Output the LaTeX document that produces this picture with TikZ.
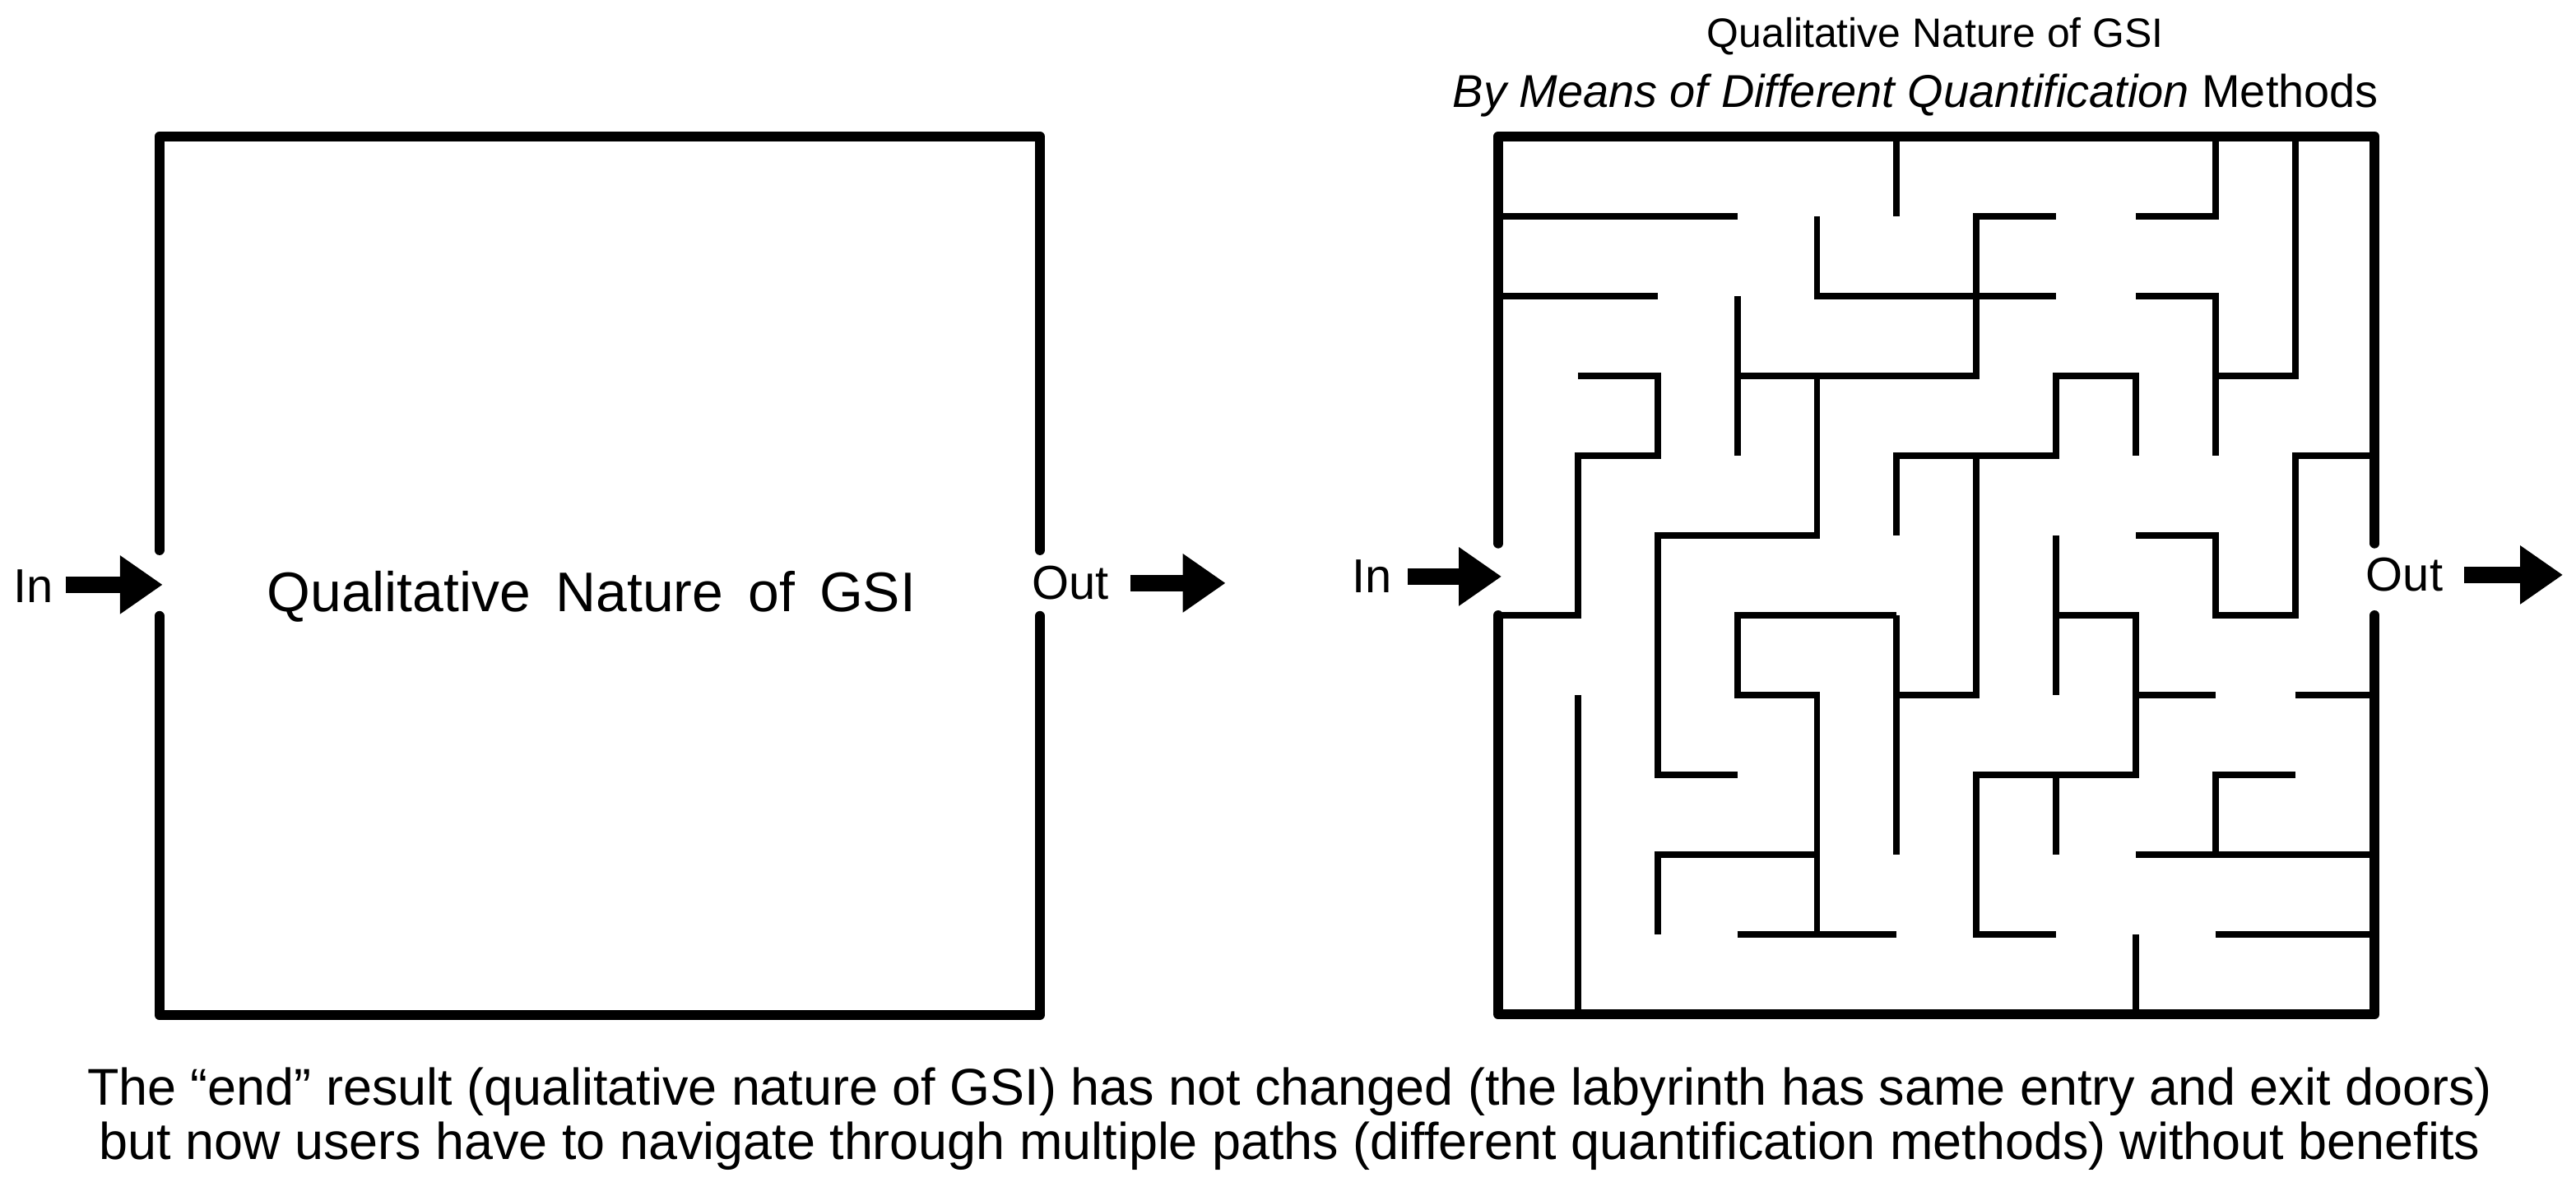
\documentclass[tikz,border=0pt]{standalone}
\usepackage{fontspec}
\setmainfont{Liberation Sans}
\usetikzlibrary{arrows.meta}
\begin{document}
\begin{tikzpicture}[x=1pt,y=-1pt,
    frame/.style={line width=6pt, line cap=round, line join=round},
    wall/.style={line width=4pt, line join=miter},
    flow/.style={line width=10pt, -{Triangle[length=26pt,width=34pt]}},
    lbl/.style={font=\fontsize{29}{34}\selectfont, inner sep=0pt}]
    \useasboundingbox (0,0) rectangle (1568,728);

    % Left box (open)
    \draw[frame] (97,335) -- (97,83) -- (633,83) -- (633,335);
    \draw[frame] (97,375) -- (97,618) -- (633,618) -- (633,375);
    \node[font=\fontsize{34}{40}\selectfont] (nat) at (360,363) {Qualitative\, Nature\, of\, GSI};

    \node[lbl, anchor=west] (inL) at (8,357) {In};
    \coordinate (inLa) at (40,356);
    \coordinate (inLb) at (99,356);
    \draw[flow] (inLa) -- (inLb);
    \node[lbl, anchor=west] (outL) at (628,355) {Out};
    \coordinate (outLa) at (688,355);
    \coordinate (outLb) at (746,355);
    \draw[flow] (outLa) -- (outLb);

    % Titles
    \node[lbl, font=\fontsize{25}{28}\selectfont] (t1) at (1178,22) {Qualitative Nature of GSI};
    \node[lbl, font=\fontsize{28}{32}\selectfont] (t2) at (1166,58) {\textit{By Means of Different Quantification} Methods};

    % Maze
    \begin{scope}[xshift=912pt, yshift=-83pt, x=48.5pt, y=-48.6pt]
        % outer walls
        \draw[frame] (0,5.1) -- (0,0) -- (11,0) -- (11,5.1);
        \draw[frame] (0,6) -- (0,11) -- (11,11) -- (11,6);
        % inner walls
        \draw[wall] (5,0) -- (5,1);
        \draw[wall] (9,0) -- (9,1) -- (8,1);
        \draw[wall] (10,0) -- (10,3) -- (9,3) -- (9,2) -- (8,2);
        \draw[wall] (0,1) -- (3,1);
        \draw[wall] (0,2) -- (2,2);
        \draw[wall] (4,1) -- (4,2) -- (6,2) -- (6,1) -- (7,1);
        \draw[wall] (6,2) -- (7,2);
        \draw[wall] (6,2) -- (6,3) -- (3,3);
        \draw[wall] (3,2) -- (3,4);
        \draw[wall] (4,3) -- (4,5) -- (2,5) -- (2,8) -- (3,8);
        \draw[wall] (1,3) -- (2,3) -- (2,4) -- (1,4) -- (1,6) -- (0,6);
        \draw[wall] (5,5) -- (5,4) -- (7,4) -- (7,3) -- (8,3) -- (8,4);
        \draw[wall] (6,4) -- (6,7) -- (5,7);
        \draw[wall] (9,3) -- (9,4);
        \draw[wall] (11,4) -- (10,4) -- (10,6) -- (9,6) -- (9,5) -- (8,5);
        \draw[wall] (7,5) -- (7,7);
        \draw[wall] (7,6) -- (8,6) -- (8,8) -- (6,8) -- (6,10) -- (7,10);
        \draw[wall] (8,7) -- (9,7);
        \draw[wall] (10,7) -- (11,7);
        \draw[wall] (7,8) -- (7,9);
        \draw[wall] (5,6) -- (3,6) -- (3,7) -- (4,7) -- (4,10);
        \draw[wall] (5,6) -- (5,9);
        \draw[wall] (3,10) -- (5,10);
        \draw[wall] (2,10) -- (2,9) -- (4,9);
        \draw[wall] (1,7) -- (1,11);
        \draw[wall] (8,9) -- (11,9);
        \draw[wall] (9,9) -- (9,8) -- (10,8);
        \draw[wall] (9,10) -- (11,10);
        \draw[wall] (8,10) -- (8,11);
    \end{scope}

    \node[lbl, anchor=west] (inR) at (823,351) {In};
    \coordinate (inRa) at (857,351);
    \coordinate (inRb) at (914,351);
    \draw[flow] (inRa) -- (inRb);
    \node[lbl, anchor=west] (outR) at (1440,350) {Out};
    \coordinate (outRa) at (1500,350);
    \coordinate (outRb) at (1560,350);
    \draw[flow] (outRa) -- (outRb);

    % Caption
    \node[lbl, align=center, font=\fontsize{31.5}{33}\selectfont] (cap) at (785,681)
        {The “end” result (qualitative nature of GSI) has not changed (the labyrinth has same entry and exit doors)\\
         but now users have to navigate through multiple paths (different quantification methods) without benefits};
\end{tikzpicture}
\end{document}
